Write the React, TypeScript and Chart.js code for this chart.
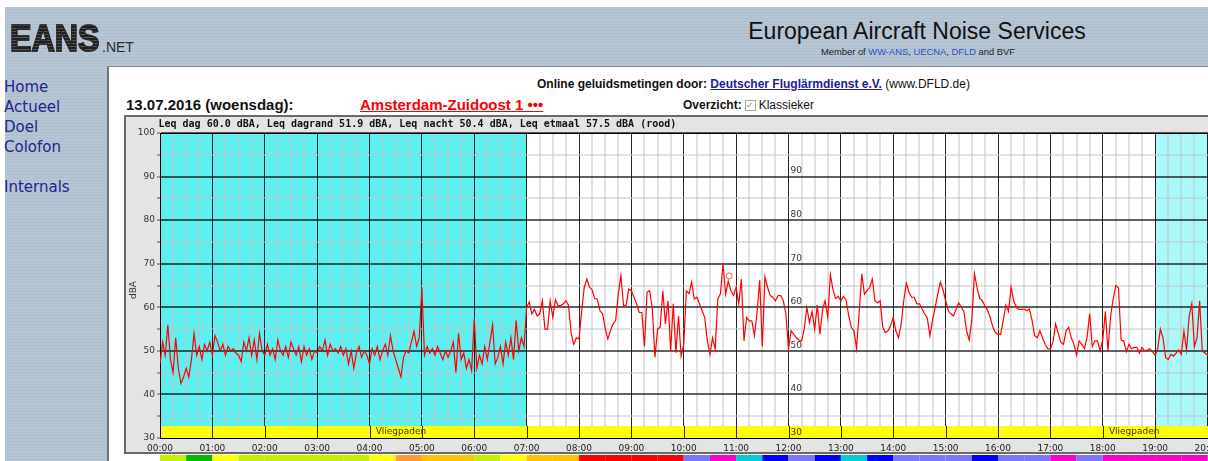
import { useEffect, useRef } from 'react';
import { Chart, registerables } from 'chart.js';

Chart.register(...registerables);

// ---------- data ----------
const SAMPLE_STEP_MIN = 3;
const NIGHT_START_MIN = 0;
const DAY_START_MIN = 420;
const EVENING_START_MIN = 1140;

// dBA every 3 minutes, 00:00 - 06:57
const levelsNight = [
  47, 52, 49, 56, 48, 45, 53, 46, 42.5, 44, 46, 44, 48, 54, 49, 51, 48, 51.5, 50, 52,
  49, 53.5, 52, 50, 51.5, 49, 51, 50, 50.5, 49.5, 49, 47.5, 52, 50, 53, 49, 52.5, 48, 54, 50,
  49, 51.5, 49, 50.5, 48, 52.5, 50, 49, 51, 48.5, 52, 50.5, 49, 51, 47.5, 51, 49, 50.5, 48, 50,
  49.5, 51, 50, 52.5, 49, 51.5, 50, 50.5, 49.5, 51, 49, 50.5, 47, 50, 46, 49.5, 51, 48.5, 50, 49,
  47, 50.5, 49, 51, 48, 50, 51.5, 49, 53.5, 50, 48, 46, 44, 48.5, 50, 49.5, 52, 54.5, 51, 53,
  64.5, 49, 51, 49.5, 50.5, 49, 51, 49.5, 48, 50, 48.5, 50, 52, 45, 54, 48, 49.5, 46, 48, 45.5,
  57.5, 46, 49, 47, 51, 48, 52, 56, 47, 48.5, 51, 47, 52, 49, 53, 48, 57, 50, 53, 51,
];

// dBA every 3 minutes, 07:00 - 18:57
const levelsDay = [
  60, 61.2, 58.5, 59.5, 58, 58.5, 61.5, 55, 55, 61.5, 57.7, 61.7, 60.4, 60.4, 60.8, 61.5, 60.5, 54, 51.5, 53,
  52.7, 59, 64.6, 66.5, 64.6, 64, 62, 61.9, 59.2, 58.5, 55.2, 52.7, 54.6, 56.2, 57, 63.1, 67.3, 60.4, 60.5, 64.2,
  63.8, 62.3, 60.8, 58.8, 58.8, 51, 63.5, 63.8, 59.6, 48.5, 55, 55.4, 63.8, 56.2, 61.5, 50, 60.8, 49.6, 58, 48.8,
  51.5, 63.8, 63.1, 65.8, 61.9, 62.3, 60.8, 59.2, 57.7, 52.3, 49.2, 53, 50.4, 61.9, 63.1, 70, 63, 66, 63.8, 62.7,
  64.6, 60.8, 66.5, 52.3, 57.7, 56.9, 56.9, 53.5, 58.8, 66.2, 51, 67, 64.6, 62.7, 62.3, 61.5, 62.7, 62.7, 61.5, 58.5,
  50.5, 54.6, 53.8, 53, 52.5, 52.3, 55, 60, 56.5, 59, 55, 60.5, 53.8, 59.5, 61.5, 57.7, 67.5, 64, 62, 62.5,
  61.5, 62.5, 61.7, 58, 55.4, 54.6, 50.5, 59, 67.7, 63, 63.8, 64.6, 66.5, 61.5, 61, 61.5, 55.4, 54.2, 54.6, 55.8,
  57.7, 54.6, 53, 56, 61.5, 65.5, 63.5, 62.3, 62.3, 60.8, 60.8, 59.6, 58.5, 57.5, 53.5, 57, 60, 63, 65.8, 64,
  61.5, 59.2, 58.5, 58, 59.5, 61, 60, 59, 54.6, 52.5, 57, 67.7, 64.5, 62, 61.5, 60.3, 59.3, 57.7, 55.5, 54.2,
  53.8, 53.8, 57, 60.5, 59, 64.6, 61.5, 60, 59.5, 59.5, 59.6, 59.2, 59.6, 57, 53.5, 53, 54.6, 53, 51.5, 50.5,
  50.4, 52, 56.2, 54, 52, 51.5, 54.6, 55.4, 53, 51.5, 49, 52.3, 51.5, 50.5, 53, 58.5, 51, 52.3, 52.3, 50,
  52.5, 59, 50, 58, 62, 65, 64.5, 52.5, 52.3, 49.8, 51.5, 50.5, 50.8, 50.8, 49.5, 50.8, 50, 50.2, 50.5, 49.8,
];

// dBA every 3 minutes, 19:00 - 20:09
const levelsEvening = [
  49, 50.5, 55, 53, 48.5, 48, 49.2, 48.8, 49.5, 50.2, 49.2, 54.5, 50.2, 58, 60.8, 51, 53, 61.5, 50, 49.5,
  49, 51, 49.5, 50,
];

const peakMarkerMinutes = [652];
const peakMarkerLevels = [67.2];

const TITLE_TEXT = 'Leq dag 60.0 dBA, Leq dagrand 51.9 dBA, Leq nacht 50.4 dBA, Leq etmaal 57.5 dBA (rood)';

const shadeStartMin = [0, 1140, 1380];
const shadeEndMin = [420, 1380, 1440];
const shadeKind = ['night', 'edge', 'night'];

const flightBandLabels = ['Vliegpaden', 'Vliegpaden'];
const flightBandLabelMin = [276, 1116];
const innerAxisLabels = [30, 40, 50, 60, 70, 80, 90];
const innerAxisMin = 720;

// route category per half hour, from 00:00
const routeBar = [
  'lime', 'green', 'yellow', 'lime', 'lime', 'lime', 'lime', 'lime', 'yellow', 'orange',
  'amber', 'amber', 'lime', 'yellow', 'amber', 'amber', 'red', 'red', 'red', 'red',
  'lilac', 'pink', 'teal', 'blue', 'lilac', 'blue', 'teal', 'blue', 'lilac', 'lilac',
  'lilac', 'blue', 'lilac', 'lilac', 'pink', 'lilac', 'pink', 'pink', 'pink', 'pink',
  'pink', 'pink',
];

// ---------- styles ----------
const routeColors: Record<string, string> = {
  lime: '#c4f000', green: '#00bb00', yellow: '#ffff00', orange: '#ff9a40', amber: '#ffc400',
  red: '#ff0000', lilac: '#7878ff', pink: '#ff00c8', teal: '#00cccc', blue: '#0000ff',
};
const shadeColors: Record<string, string> = { night: '#5ef0f0', edge: '#aaf8f8' };
const FRAME_H = 339;
const BAND_TOP_DBA = 32.75;
const HEADER_BG = 'repeating-linear-gradient(180deg, #b6c5d4 0px, #b6c5d4 2px, #aebecd 2px, #aebecd 3px)';

function buildPoints() {
  const pts: { x: number; y: number }[] = [];
  levelsNight.forEach((v, i) => pts.push({ x: NIGHT_START_MIN + i * SAMPLE_STEP_MIN, y: v }));
  levelsDay.forEach((v, i) => pts.push({ x: DAY_START_MIN + i * SAMPLE_STEP_MIN, y: v }));
  levelsEvening.forEach((v, i) => pts.push({ x: EVENING_START_MIN + i * SAMPLE_STEP_MIN, y: v }));
  return pts;
}

const hhmm = (m: number) => String(Math.floor(m / 60)).padStart(2, '0') + ':00';

const framePlugin = {
  id: 'eansFrame',
  beforeDraw(chart: any) {
    const { ctx, chartArea: a, scales } = chart;
    const xs = scales.x;
    const W = chart.width;
    ctx.save();
    ctx.fillStyle = '#ffffff';
    ctx.fillRect(0, 0, W, chart.height);
    ctx.fillStyle = '#e4e4e4';
    ctx.fillRect(0, 0, W, FRAME_H);
    ctx.strokeStyle = '#6a6a6a';
    ctx.lineWidth = 2;
    ctx.strokeRect(1, 1, W - 2, FRAME_H - 2);
    ctx.fillStyle = '#ffffff';
    ctx.fillRect(a.left, a.top, a.width, a.height);
    for (let i = 0; i < shadeStartMin.length; i++) {
      const x0 = xs.getPixelForValue(shadeStartMin[i]);
      const x1 = xs.getPixelForValue(shadeEndMin[i]);
      ctx.fillStyle = shadeColors[shadeKind[i]];
      ctx.fillRect(x0, a.top, x1 - x0, a.height);
    }
    // title
    ctx.fillStyle = '#111';
    ctx.font = 'bold 10px "DejaVu Sans Mono"';
    ctx.textBaseline = 'middle';
    ctx.textAlign = 'left';
    ctx.fillText(TITLE_TEXT, 34.5, 9.5);
    // axis title
    ctx.save();
    ctx.translate(10, 175);
    ctx.rotate(-Math.PI / 2);
    ctx.font = '9px "DejaVu Sans"';
    ctx.fillStyle = '#333';
    ctx.textAlign = 'center';
    ctx.fillText('dBA', 0, 0);
    ctx.restore();
    // route bar
    routeBar.forEach((c, i) => {
      const x0 = xs.getPixelForValue(i * 30);
      const x1 = xs.getPixelForValue(i * 30 + 30);
      ctx.fillStyle = routeColors[c];
      ctx.fillRect(x0, FRAME_H + 1, x1 - x0, 8);
    });
    ctx.restore();
  },
  beforeDatasetsDraw(chart: any) {
    const { ctx, chartArea: a, scales } = chart;
    const xs = scales.x;
    const ys = scales.y;
    ctx.save();
    const bandTop = ys.getPixelForValue(BAND_TOP_DBA);
    const bandBottom = ys.getPixelForValue(30);
    ctx.fillStyle = '#ffff00';
    ctx.fillRect(a.left, bandTop, a.width, bandBottom - bandTop);
    ctx.strokeStyle = 'rgba(0,0,0,0.85)';
    ctx.lineWidth = 1;
    for (let m = 0; m <= 1440; m += 60) {
      const px = Math.round(xs.getPixelForValue(m)) + 0.5;
      ctx.beginPath();
      ctx.moveTo(px, bandTop);
      ctx.lineTo(px, bandBottom);
      ctx.stroke();
    }
    ctx.strokeStyle = '#000';
    ctx.beginPath();
    ctx.moveTo(a.left, Math.round(a.bottom) + 0.5);
    ctx.lineTo(a.right, Math.round(a.bottom) + 0.5);
    ctx.moveTo(Math.round(a.left) + 0.5, a.top);
    ctx.lineTo(Math.round(a.left) + 0.5, a.bottom);
    ctx.moveTo(a.left, Math.round(a.top) + 0.5);
    ctx.lineTo(a.right, Math.round(a.top) + 0.5);
    ctx.stroke();
    ctx.fillStyle = '#333';
    ctx.font = '9px "DejaVu Sans"';
    ctx.textBaseline = 'middle';
    ctx.textAlign = 'center';
    flightBandLabels.forEach((t, i) => {
      ctx.fillText(t, xs.getPixelForValue(flightBandLabelMin[i]), (bandTop + bandBottom) / 2);
    });
    ctx.textAlign = 'left';
    const lx = xs.getPixelForValue(innerAxisMin) + 2;
    innerAxisLabels.forEach((v) => {
      ctx.fillText(String(v), lx, ys.getPixelForValue(v) - 5.5);
    });
    ctx.restore();
  },
};

export default function App() {
  const ref = useRef<HTMLCanvasElement>(null);

  useEffect(() => {
    if (!ref.current) return;
    const chart = new Chart(ref.current, {
      type: 'line',
      data: {
        datasets: [
          {
            data: buildPoints(),
            borderColor: '#ff0000',
            borderWidth: 1.2,
            pointRadius: 0,
            tension: 0,
            fill: false,
          },
          {
            data: peakMarkerMinutes.map((m, i) => ({ x: m, y: peakMarkerLevels[i] })),
            showLine: false,
            pointRadius: 3,
            pointStyle: 'circle',
            borderColor: '#ff5050',
            backgroundColor: 'rgba(0,0,0,0)',
            borderWidth: 1,
          },
        ],
      },
      options: {
        animation: false,
        responsive: false,
        devicePixelRatio: 1,
        layout: { padding: { top: 18, right: 13, bottom: 8, left: 0 } },
        plugins: { legend: { display: false }, tooltip: { enabled: false } },
        scales: {
          x: {
            type: 'linear',
            min: 0,
            max: 1440,
            afterFit: (s: any) => { s.height = 16; },
            ticks: {
              stepSize: 15,
              autoSkip: false,
              maxRotation: 0,
              minRotation: 0,
              padding: 5,
              color: '#222',
              font: { family: 'DejaVu Sans', size: 9 },
              callback: (v: any) => (v % 60 === 0 && v < 1440 ? hhmm(v) : ''),
            },
            grid: {
              drawTicks: false,
              color: (c: any) => (c.tick && c.tick.value % 60 === 0 ? 'rgba(0,0,0,0.85)' : 'rgba(195,195,195,0.5)'),
              lineWidth: (c: any) => (c.tick && c.tick.value % 60 === 0 ? 1 : 2),
            },
            border: { display: true, color: '#000', width: 1 },
          },
          y: {
            min: 30,
            max: 100,
            afterFit: (s: any) => { s.width = 36; },
            ticks: {
              stepSize: 5,
              padding: 2,
              color: '#333',
              font: { family: 'DejaVu Sans', size: 9 },
              callback: (v: any) => (v % 10 === 0 ? String(v) : ''),
            },
            grid: {
              drawTicks: true,
              tickLength: 3,
              tickColor: '#555',
              tickWidth: 1,
              color: (c: any) => (c.tick && c.tick.value % 10 === 0 ? 'rgba(0,0,0,0.62)' : 'rgba(195,195,195,0.5)'),
              lineWidth: 2,
            },
            border: { display: true, color: '#000', width: 1 },
          },
        },
      },
      plugins: [framePlugin],
    } as any);
    return () => chart.destroy();
  }, []);

  const sans = '"Liberation Sans", Arial, sans-serif';
  const nav = { position: 'absolute' as const, left: 4, fontFamily: '"DejaVu Sans", Verdana, sans-serif', fontSize: 15, lineHeight: '20px', color: '#24248e' };

  return (
    <div style={{ position: 'fixed', left: 0, top: 0, width: 1208, height: 461, overflow: 'hidden', background: '#fff', fontFamily: sans }}>
      <div style={{ position: 'absolute', left: 5, top: 7, width: 1203, height: 60, background: HEADER_BG }} />
      <div style={{ position: 'absolute', left: 5, top: 67, width: 102, height: 394, background: HEADER_BG }} />
      <div style={{ position: 'absolute', left: 107, top: 66, width: 1101, height: 395, background: '#fff', borderLeft: '2px solid #737373', borderTop: '1px solid #8a8a8a', boxSizing: 'border-box' }} />

      <div style={{ position: 'absolute', left: 10, top: 20, fontFamily: sans, fontWeight: 'bold', fontSize: 37, lineHeight: '37px', transform: 'scaleX(0.87)', transformOrigin: 'left top', background: 'repeating-linear-gradient(180deg, #1f1f1f 0px, #1f1f1f 2px, #5a5a5a 2px, #5a5a5a 3px)', WebkitBackgroundClip: 'text', backgroundClip: 'text', color: 'transparent', WebkitTextStroke: '1.6px rgba(40,40,40,0.85)' }}>EANS</div>
      <div style={{ position: 'absolute', left: 102, top: 40, fontSize: 14, lineHeight: '14px', color: '#2a2a2a' }}>.NET</div>

      <div style={{ position: 'absolute', left: 617, top: 20, width: 600, textAlign: 'center', fontSize: 23, lineHeight: '23px', color: '#111' }}>European Aircraft Noise Services</div>
      <div style={{ position: 'absolute', left: 618, top: 47, width: 600, textAlign: 'center', fontSize: 9.4, lineHeight: '10px', color: '#222' }}>
        Member of <span style={{ color: '#2e4fc4' }}>WW-ANS</span>, <span style={{ color: '#2e4fc4' }}>UECNA</span>, <span style={{ color: '#2e4fc4' }}>DFLD</span> and BVF
      </div>

      <div style={{ ...nav, top: 77 }}>Home</div>
      <div style={{ ...nav, top: 97 }}>Actueel</div>
      <div style={{ ...nav, top: 117 }}>Doel</div>
      <div style={{ ...nav, top: 137 }}>Colofon</div>
      <div style={{ ...nav, top: 177 }}>Internals</div>

      <div style={{ position: 'absolute', left: 537, top: 78, fontSize: 12, lineHeight: '12px', color: '#111', whiteSpace: 'nowrap' }}>
        <b>Online geluidsmetingen door: </b>
        <b style={{ color: '#2020a0', textDecoration: 'underline' }}>Deutscher Fluglärmdienst e.V.</b> (www.DFLD.de)
      </div>
      <div style={{ position: 'absolute', left: 126, top: 96.5, fontSize: 15, lineHeight: '15px', fontWeight: 'bold', color: '#111', whiteSpace: 'nowrap' }}>13.07.2016 (woensdag):</div>
      <div style={{ position: 'absolute', left: 360, top: 96.5, fontSize: 15, lineHeight: '15px', fontWeight: 'bold', color: '#ff0000', textDecoration: 'underline', whiteSpace: 'nowrap' }}>Amsterdam-Zuidoost 1 •••</div>
      <div style={{ position: 'absolute', left: 683, top: 99.3, fontSize: 12, lineHeight: '12px', color: '#111', whiteSpace: 'nowrap', display: 'flex', alignItems: 'center' }}>
        <b>Overzicht:</b>
        <span style={{ display: 'inline-block', width: 9, height: 9, border: '1px solid #a8a8a8', marginLeft: 3, marginRight: 3, fontSize: 9, lineHeight: '9px', textAlign: 'center', color: '#8a8a8a', background: '#fff' }}>✓</span>
        <span>Klassieker</span>
      </div>

      <canvas ref={ref} width={1306} height={347} style={{ position: 'absolute', left: 124, top: 115, width: 1306, height: 347 }} />
    </div>
  );
}
